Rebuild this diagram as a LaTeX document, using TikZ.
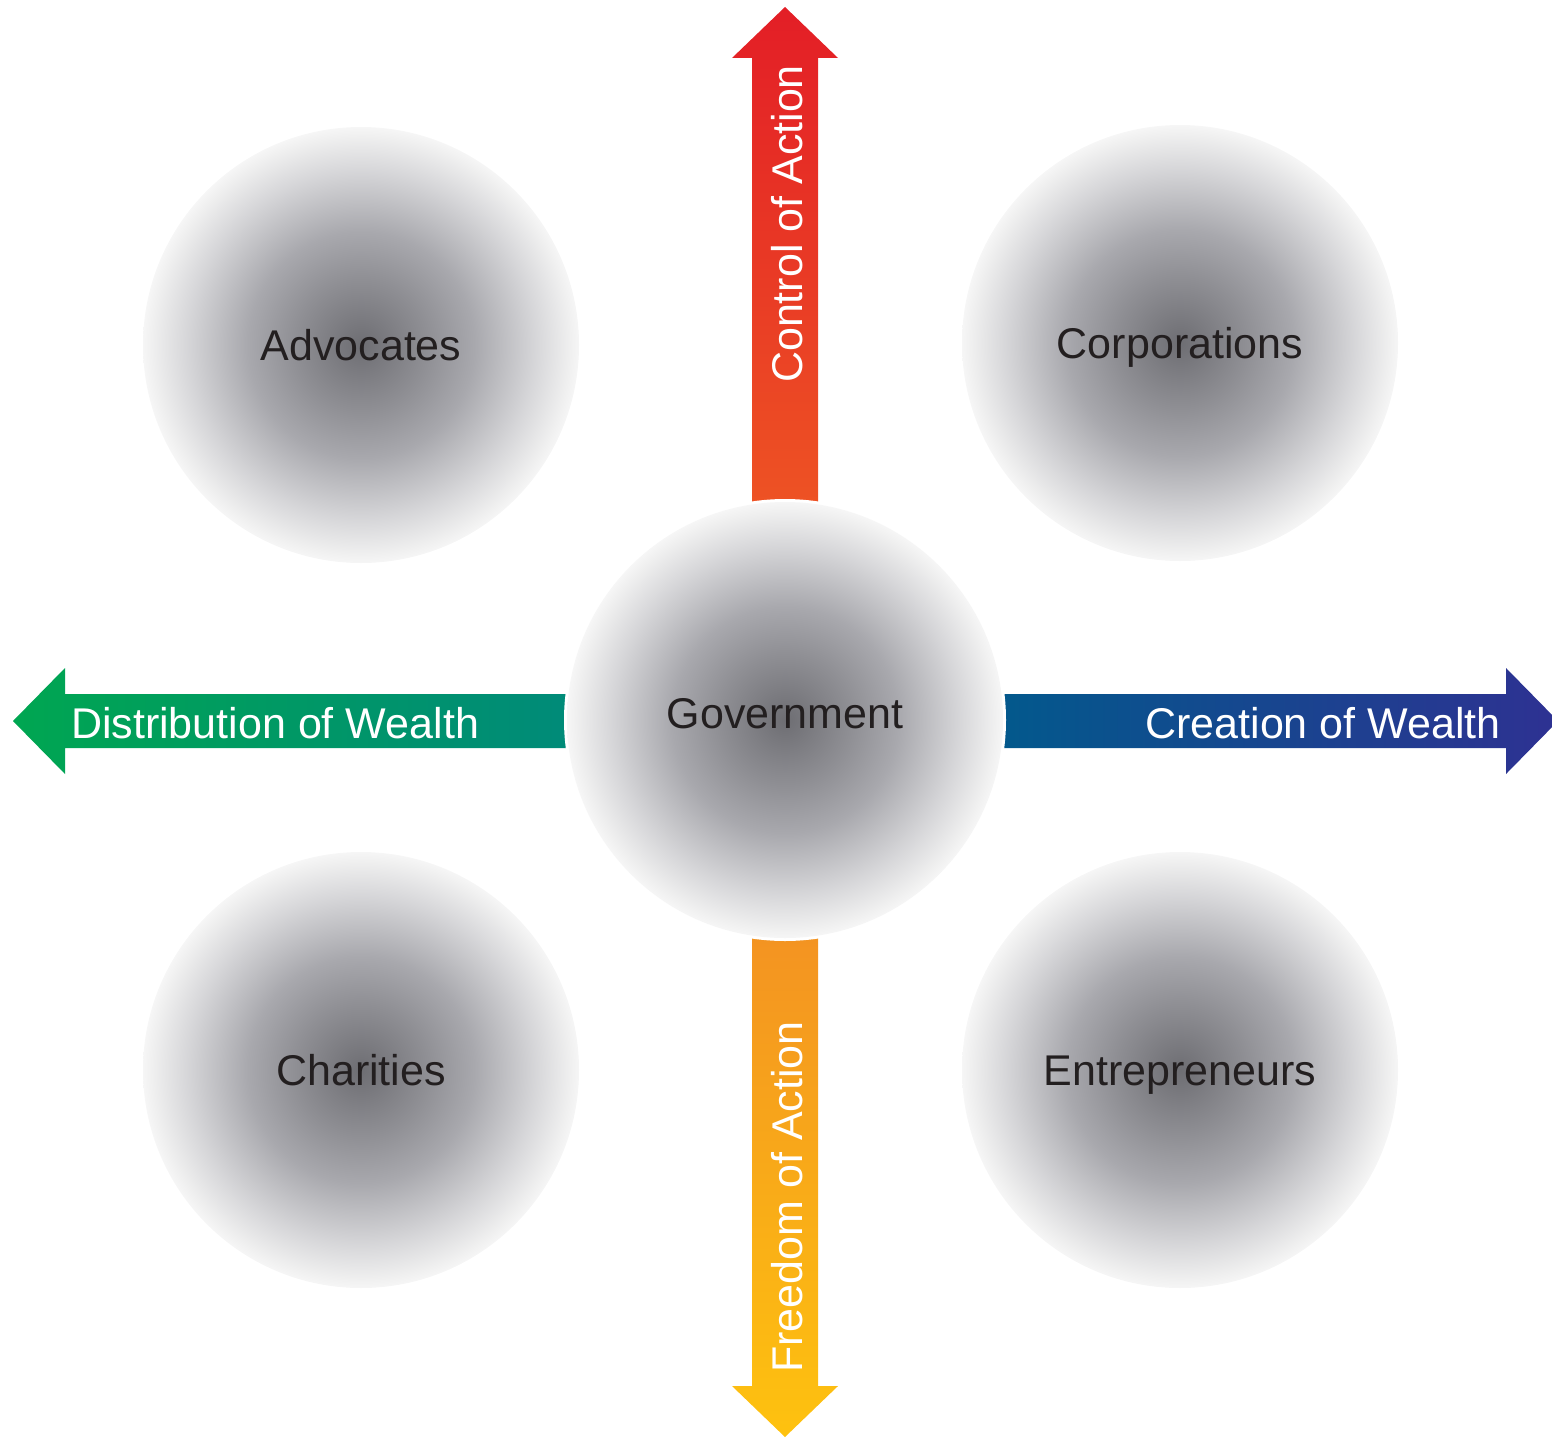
\documentclass[tikz,border=0pt]{standalone}
\usepackage{fontspec}
\setmainfont{Liberation Sans}

% axis colours
\definecolor{cRed}{HTML}{E31E26}
\definecolor{cRedMid}{HTML}{E52A27}
\definecolor{cRedOr}{HTML}{EE5424}
\definecolor{cOrange}{HTML}{F39222}
\definecolor{cYellow}{HTML}{FEC20F}
\definecolor{cGreen}{HTML}{00A651}
\definecolor{cTeal}{HTML}{00897B}
\definecolor{cSteel}{HTML}{005B8C}
\definecolor{cIndigo}{HTML}{2E3192}
\definecolor{inkgray}{HTML}{231F20}

% soft grey sphere (the path edge lies near 25bp of the shading)
\definecolor{orbA}{rgb}{0.43,0.43,0.45}
\definecolor{orbB}{rgb}{0.56,0.56,0.58}
\definecolor{orbC}{rgb}{0.66,0.66,0.68}
\definecolor{orbD}{rgb}{0.84,0.84,0.85}
\definecolor{orbE}{rgb}{0.94,0.94,0.94}
\pgfdeclareradialshading{orb}{\pgfpoint{0bp}{0bp}}{%
  color(0bp)=(orbA); color(7.5bp)=(orbB); color(13bp)=(orbC);
  color(20bp)=(orbD); color(24bp)=(orbE); color(26.5bp)=(white); color(50bp)=(white)}

\tikzset{
  sphere/.style={circle, minimum size=436pt, inner sep=0pt, draw=none,
    shade, shading=orb, text=inkgray,
    font=\fontsize{43}{50}\selectfont, text height=31pt, text depth=0pt},
  sphlbl/.style={text=inkgray, font=\fontsize{43}{50}\selectfont,
    text height=31pt, text depth=0pt, inner sep=0pt},
  axislbl/.style={text=white, font=\fontsize{43}{50}\selectfont,
    inner sep=0pt, anchor=base}
}

\begin{document}
\begin{tikzpicture}[x=1pt,y=-1pt]
\useasboundingbox (0,0) rectangle (1552,1437);

% vertical axis
\shade[top color=cRed, middle color=cRedMid, bottom color=cRedOr]
  (752,520) -- (752,58) -- (732,58) -- (785,7) -- (838,58) -- (818,58) -- (818,520) -- cycle;
\shade[top color=cOrange, bottom color=cYellow]
  (752,920) -- (752,1386) -- (732,1386) -- (785,1437) -- (838,1386) -- (818,1386) -- (818,920) -- cycle;

% horizontal axis
\shade[left color=cGreen, right color=cTeal]
  (600,694) -- (65,694) -- (65,668) -- (13,721) -- (65,774) -- (65,748) -- (600,748) -- cycle;
\shade[left color=cSteel, right color=cIndigo]
  (970,694) -- (1506,694) -- (1506,668) -- (1558,721) -- (1506,774) -- (1506,748) -- (970,748) -- cycle;

% white rim round the centre
\fill[white] (785,720) circle (221);

% spheres
\node[sphere] (adv) at (361,345) {Advocates};
\node[sphere] (corp) at (1180,343) {Corporations};
\node[sphere] (char) at (361,1070) {Charities};
\node[sphere] (entr) at (1180,1070) {Entrepreneurs};
\node[sphere] (gov) at (785,720) {};
\node[sphlbl] (govtxt) at (785,713) {Government};

% axis labels
\node[axislbl, rotate=90] (ctl) at (802,224) {Control of Action};
\node[axislbl, rotate=90] (frd) at (802,1197) {Freedom of Action};
\node[axislbl] (dist) at (275,738) {Distribution of Wealth};
\node[axislbl] (crea) at (1323,738) {Creation of Wealth};
\end{tikzpicture}
\end{document}
